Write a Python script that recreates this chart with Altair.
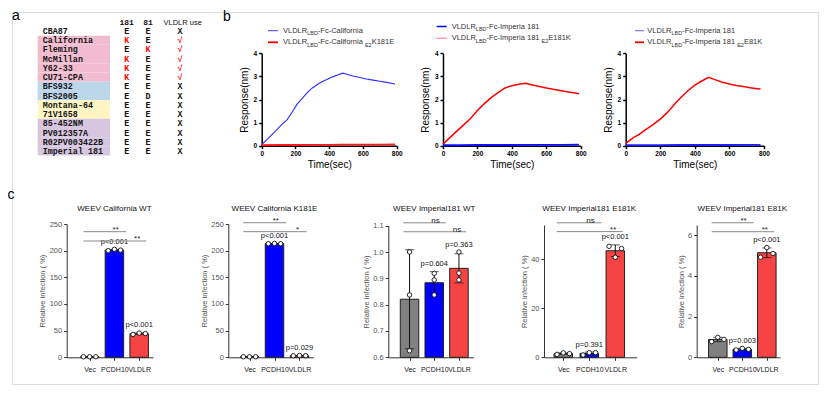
import altair as alt
import pandas as pd
import numpy as np

# ======================= DATA =======================
# ---- panel a : strain table ----
strains = ["CBA87", "California", "Fleming", "McMillan", "Y62-33", "CU71-CPA",
           "BFS932", "BFS2005", "Montana-64", "71V1658", "85-452NM", "PV012357A",
           "R02PV003422B", "Imperial 181"]
residue_181 = ["E", "K", "E", "K", "K", "K", "E", "E", "E", "E", "E", "E", "E", "E"]
residue_81 = ["E", "E", "K", "E", "E", "E", "E", "D", "E", "E", "E", "E", "E", "E"]
vldlr_use = ["X", "√", "√", "√", "√", "√", "X", "X", "X", "X", "X", "X", "X", "X"]
strain_group = ["none", "pink", "pink", "pink", "pink", "pink", "blue", "blue",
                "yellow", "yellow", "purple", "purple", "purple", "purple"]
table_header = ["181", "81", "VLDLR use"]
panel_letters = ["a", "b", "c"]

# ---- panel b : binding curves ----
b1_time = [0, 40, 80, 120, 150, 180, 210, 240, 270, 300, 330, 360, 390, 420, 450,
           480, 500, 540, 580, 620, 660, 700, 740, 790]
b1_california = [0.05, 0.33, 0.62, 0.92, 1.12, 1.45, 1.8, 2.05, 2.3, 2.5, 2.65, 2.78,
                 2.88, 2.98, 3.06, 3.14, 3.1, 3.02, 2.95, 2.89, 2.84, 2.79, 2.74, 2.67]
b1_flat_time = [0, 100, 200, 300, 400, 480, 600, 700, 790]
b1_k181e = [0.02, 0.03, 0.03, 0.04, 0.04, 0.05, 0.05, 0.05, 0.06]

b2_time = [0, 40, 80, 120, 160, 200, 240, 280, 320, 360, 400, 440, 480, 520, 560,
           600, 640, 680, 720, 760, 790]
b2_e181k = [0.07, 0.35, 0.63, 0.9, 1.18, 1.52, 1.82, 2.08, 2.3, 2.5, 2.6, 2.66, 2.7,
            2.63, 2.56, 2.5, 2.44, 2.39, 2.34, 2.29, 2.25]
b2_flat_time = [0, 100, 200, 300, 400, 480, 600, 700, 790]
b2_imperial = [0.02, 0.02, 0.03, 0.03, 0.03, 0.04, 0.04, 0.04, 0.05]

b3_time = [0, 40, 80, 120, 160, 200, 240, 280, 320, 360, 400, 440, 480, 520, 560,
           600, 640, 680, 720, 760, 780]
b3_e81k = [0.1, 0.33, 0.5, 0.72, 0.92, 1.15, 1.43, 1.77, 2.1, 2.38, 2.62, 2.8, 2.96,
           2.85, 2.75, 2.67, 2.61, 2.56, 2.51, 2.47, 2.45]
b3_flat_time = [0, 100, 200, 300, 400, 480, 600, 700, 780]
b3_imperial = [0.02, 0.02, 0.02, 0.03, 0.03, 0.03, 0.03, 0.04, 0.04]

# legend text pieces: (text, "n" normal / "s" subscript)
b_legend = [
    [[("VLDLR", "n"), ("LBD", "s"), ("-Fc-California", "n")],
     [("VLDLR", "n"), ("LBD", "s"), ("-Fc-California ", "n"), ("E2", "s"), ("K181E", "n")]],
    [[("VLDLR", "n"), ("LBD", "s"), ("-Fc-Imperia 181", "n")],
     [("VLDLR", "n"), ("LBD", "s"), ("-Fc-Imperia 181 ", "n"), ("E2", "s"), ("E181K", "n")]],
    [[("VLDLR", "n"), ("LBD", "s"), ("-Fc-Imperia 181", "n")],
     [("VLDLR", "n"), ("LBD", "s"), ("-Fc-Imperia 181 ", "n"), ("E2", "s"), ("E81K", "n")]],
]
b_x_title = "Time(sec)"
b_y_title = "Response(nm)"
b_x_ticks = [0, 200, 400, 600, 800]
b_y_ticks = [0, 1, 2, 3, 4]

# ---- panel c : infection bar charts ----
c_categories = ["Vec", "PCDH10", "VLDLR"]
c_titles = ["WEEV California WT", "WEEV California K181E", "WEEV Imperial181 WT",
            "WEEV Imperial181 E181K", "WEEV Imperial181 E81K"]
c1_values = [[1.0, 1.0, 1.0], [200.0, 202.5, 201.0], [43.0, 45.5, 44.5]]
c2_values = [[1.0, 1.0, 1.0], [213.0, 213.5, 213.0], [2.8, 3.4, 3.0]]
c3_values = [[1.0, 0.837, 0.625], [0.919, 0.894, 0.837], [1.0, 0.92, 0.894]]
c4_values = [[1.2, 1.8, 1.5], [0.95, 1.9, 1.9], [45.3, 40.8, 44.4]]
c5_values = [[0.77, 0.98, 0.88], [0.36, 0.44, 0.39], [4.92, 5.39, 5.1]]
c_pvalues = [["", "p<0.001", "p<0.001"], ["", "p<0.001", "p=0.029"],
             ["", "p=0.604", "p=0.363"], ["", "p=0.391", "p<0.001"],
             ["", "p=0.003", "p<0.001"]]
c_stars = [["**", "**"], ["**", "*"], ["ns", "ns"], ["ns", "**"], ["**", "**"]]
c_bracket_heights = [[235.6, 218.1], [252.4, 235.6], [1.111, 1.077], [54.9, 51.3], [6.61, 6.17]]
c_domains = [[0, 250], [0, 250], [0.6, 1.1], [0, 54], [0, 6.5]]
c_ticks = [[0, 50, 100, 150, 200, 250], [0, 50, 100, 150, 200, 250],
           [0.6, 0.7, 0.8, 0.9, 1.0, 1.1], [0, 20, 40], [0, 2, 4, 6]]
c_y_title = "Relative infection ( %)"

# ======================= LAYOUT / STYLE =======================
PAD = 4
M = 8 + PAD  # page margin + padding: image pixel -> view pixel
W, H = 830 - 2 * M, 396 - 2 * M


def X(v):
    return v - M


def Y(v):
    return v - M


SANS = "Liberation Sans"
MONO = "Liberation Mono"

AFM = {'V': 667, 'L': 556, 'D': 722, 'R': 722, 'B': 667, 'F': 611, 'c': 500, '-': 333,
       'C': 722, 'a': 556, 'l': 222, 'i': 222, 'f': 278, 'o': 556, 'r': 333, 'n': 556,
       ' ': 278, 'I': 278, 'm': 833, 'p': 556, 'e': 556, '1': 556, '8': 556, 'E': 667,
       'K': 667, '2': 556}


def text_w(s, fs):
    return sum(AFM.get(ch, 556) for ch in s) * fs / 1000.0


layers = []

# ---------------- panel letters ----------------
letters_df = pd.DataFrame({"t": panel_letters, "x": [X(16), X(227), X(11)],
                           "y": [Y(16), Y(16.5), Y(195)]})
layers.append(alt.Chart(letters_df).mark_text(font=SANS, fontSize=14, align="center",
                                              baseline="middle", color="black").encode(
    x=alt.X("x:Q", scale=None), y=alt.Y("y:Q", scale=None), text="t:N"))

# ---------------- panel a ----------------
GROUP_FILL = {"pink": "#F2BCD0", "blue": "#BDD7EA", "yellow": "#FFF5C3", "purple": "#D6C6E0"}
tab = pd.DataFrame({"row": list(range(len(strains))), "strain": strains,
                    "r181": residue_181, "r81": residue_81, "use": vldlr_use,
                    "grp": strain_group})
tab["fill"] = tab["grp"].map(GROUP_FILL)


def red_if(v):
    return "#FF0000" if v in ("K", "√") else "#111111"


tab["c181"] = tab["r181"].map(red_if)
tab["c81"] = tab["r81"].map(red_if)
tab["cuse"] = tab["use"].map(red_if)

row_scale = alt.Scale(type="band", domain=list(range(len(strains))),
                      range=[Y(26.4), Y(155.6)], paddingInner=0, paddingOuter=0)
yrow = alt.Y("row:O", scale=row_scale, axis=None)

t_bg = alt.Chart(tab[tab.grp != "none"]).mark_rect().encode(
    x=alt.value(X(37.7)), x2=alt.value(X(110)), y=yrow,
    color=alt.Color("fill:N", scale=None))
t_names = alt.Chart(tab).mark_text(font=MONO, fontWeight="bold", fontSize=8.4,
                                   align="left", baseline="middle", color="#151515").encode(
    x=alt.value(X(42.7)), y=yrow, text="strain:N")
t_cols = []
for col, ccol, xc in [("r181", "c181", 126.7), ("r81", "c81", 148), ("use", "cuse", 180)]:
    t_cols.append(alt.Chart(tab).mark_text(font=MONO, fontWeight="bold", fontSize=8.4,
                                           align="center", baseline="middle").encode(
        x=alt.value(X(xc)), y=yrow, text=f"{col}:N",
        color=alt.Color(f"{ccol}:N", scale=None)))
hdr_df = pd.DataFrame({"t": table_header, "x": [X(126.7), X(148), X(182.7)]})
t_hdr1 = alt.Chart(hdr_df.iloc[:2]).mark_text(font=MONO, fontWeight="bold", fontSize=8,
                                              baseline="middle", color="#111").encode(
    x=alt.X("x:Q", scale=None), y=alt.value(Y(22.7)), text="t:N")
t_hdr2 = alt.Chart(hdr_df.iloc[2:]).mark_text(font=SANS, fontSize=7.5,
                                              baseline="middle", color="#111").encode(
    x=alt.X("x:Q", scale=None), y=alt.value(Y(22.7)), text="t:N")
layers.append(alt.layer(t_bg, t_names, *t_cols, t_hdr1, t_hdr2))

# ---------------- panel b ----------------
B_GEOM = [  # x of t=0, x of t=800 (image px)
    (261.7, 396.7), (443.0, 580.7), (625.7, 764.0)]
B_Y0, B_Y4 = 145.7, 53.3
b_series = [
    [(b1_time, b1_california, "#2B2BFF", 1.1), (b1_flat_time, b1_k181e, "#FF1A1A", 1.8)],
    [(b2_time, b2_e181k, "#FF0000", 1.5), (b2_flat_time, b2_imperial, "#1010FF", 1.8)],
    [(b3_time, b3_e81k, "#FF0000", 1.5), (b3_flat_time, b3_imperial, "#2020FF", 1.8)],
]
for k in range(3):
    x0, x1 = B_GEOM[k]
    xs = alt.Scale(domain=[0, 800], range=[X(x0), X(x1)], nice=False, zero=False)
    ys = alt.Scale(domain=[0, 4], range=[Y(B_Y0), Y(B_Y4)], nice=False, zero=False)
    xa = alt.Axis(orient="bottom", offset=Y(B_Y0) - H, values=b_x_ticks, title=b_x_title,
                  grid=False, domainColor="black", domainWidth=1.5, tickColor="black",
                  tickWidth=1.5, tickSize=3, labelFont=SANS, labelFontSize=6.5,
                  labelFontWeight="bold", labelColor="black", labelPadding=2,
                  labelFlush=False, labelOverlap=False, titleFont=SANS, titleFontSize=10,
                  titleFontWeight="normal", titleColor="black", titlePadding=2)
    ya = alt.Axis(orient="left", offset=-X(x0), values=b_y_ticks, title=b_y_title,
                  grid=False, domainColor="black", domainWidth=1.5, tickColor="black",
                  tickWidth=1.5, tickSize=3, labelFont=SANS, labelFontSize=6.5,
                  labelFontWeight="bold", labelColor="black", labelPadding=2,
                  labelOverlap=False, titleFont=SANS, titleFontSize=10,
                  titleFontWeight="normal", titleColor="black", titlePadding=4)
    sub = []
    for i, (tt, rr, colr, sw) in enumerate(b_series[k]):
        df = pd.DataFrame({"t": tt, "r": rr})
        sub.append(alt.Chart(df).mark_line(color=colr, strokeWidth=sw).encode(
            x=alt.X("t:Q", scale=xs, axis=xa),
            y=alt.Y("r:Q", scale=ys, axis=ya)))
    layers.append(alt.layer(*sub))

# b legends (manual, to allow subscripts)
LEG_GEOM = [  # symbol x0, x1, text x, row y's
    (268, 278, 283, (30.7, 42.3)),
    (436.7, 446.7, 451.7, (26.5, 38.3)),
    (635, 644, 647.3, (30.7, 42.3)),
]
LEG_SYM = [[("#4040FF", 1.0), ("#FF0000", 1.8)],
           [("#0000FF", 1.5), ("#FF8A8A", 1.2)],
           [("#6060FF", 1.0), ("#FF0000", 1.8)]]
FS_N, FS_S = 7.5, 5.5
seg_rows, sym_rows = [], []
for k in range(3):
    sx0, sx1, tx, rys = LEG_GEOM[k]
    for r in range(2):
        cx = tx
        for txt, kind in b_legend[k][r]:
            fs = FS_N if kind == "n" else FS_S
            yy = rys[r] + (0 if kind == "n" else 2.3)
            seg_rows.append({"x": X(cx), "y": Y(yy), "t": txt, "fs": fs})
            cx += text_w(txt, fs)
        col, sw = LEG_SYM[k][r]
        sym_rows.append({"x": X(sx0), "x2": X(sx1), "y": Y(rys[r]), "c": col, "sw": sw})
seg_df = pd.DataFrame(seg_rows)
sym_df = pd.DataFrame(sym_rows)
layers.append(alt.Chart(seg_df).mark_text(font=SANS, align="left", baseline="middle",
                                          color="#333333").encode(
    x=alt.X("x:Q", scale=None), y=alt.Y("y:Q", scale=None), text="t:N",
    size=alt.Size("fs:Q", scale=None)))
layers.append(alt.Chart(sym_df).mark_rule().encode(
    x=alt.X("x:Q", scale=None), x2="x2:Q", y=alt.Y("y:Q", scale=None),
    color=alt.Color("c:N", scale=None), strokeWidth=alt.StrokeWidth("sw:Q", scale=None)))

# ---------------- panel c ----------------
C_GEOM = [  # axis left, axis right, bar0 center, bar2 center, y of domain max
    (66.7, 153.0, 87.0, 143.0, 224.0),
    (228.3, 313.3, 246.7, 303.3, 224.0),
    (388.3, 473.3, 406.7, 462.7, 225.7),
    (544.0, 636.7, 560.0, 618.3, 225.0),
    (696.7, 780.0, 715.0, 770.7, 225.0),
]
C_BASE = 357.3
C_COLORS = ["#808080", "#0000FF", "#F64444"]
C_JITTER = [[-7, 0, 7], [-7, 0, 7], [0, 0, 0], [-7, 0, 7], [-7, 0, 7]]
C_FMT = ["d", "d", ".1f", "d", "d"]
c_all_values = [c1_values, c2_values, c3_values, c4_values, c5_values]
label_expr = "[" + ",".join(f"'{c}'" for c in c_categories) + "][datum.value]"

for k in range(5):
    al, ar, b0, b2, ytop = C_GEOM[k]
    step = (b2 - b0) / 2.0
    lo_d, hi_d = c_domains[k]
    xs = alt.Scale(domain=[(al - b0) / step, (ar - b0) / step], range=[X(al), X(ar)],
                   nice=False, zero=False)
    ys = alt.Scale(domain=[lo_d, hi_d], range=[Y(C_BASE), Y(ytop)], nice=False, zero=False)
    vals = c_all_values[k]

    pts = pd.DataFrame([{"xj": i + C_JITTER[k][j] / step, "v": v}
                        for i, grp in enumerate(vals) for j, v in enumerate(grp)])
    summ = []
    for i, grp in enumerate(vals):
        m = float(np.mean(grp))
        sd = float(np.std(grp, ddof=1))
        summ.append({"i": i, "mean": m, "lo": m - sd, "hi": m + sd,
                     "top": max(m + sd, max(grp)), "col": C_COLORS[i],
                     "p": c_pvalues[k][i]})
    summ = pd.DataFrame(summ)
    caps = pd.concat([summ[["i", "lo"]].rename(columns={"lo": "cv"}),
                      summ[["i", "hi"]].rename(columns={"hi": "cv"})])
    br = pd.DataFrame({"x0": [-0.25, -0.25], "x1": [1.47, 2.29],
                       "h": c_bracket_heights[k], "lab": c_stars[k], "xl": [1.05, 1.92]})
    br["dy"] = br["lab"].map(lambda s: -1.0 if s == "ns" else 2.3)
    ttl = pd.DataFrame({"i": [1], "t": [c_titles[k]]})

    xa = alt.Axis(orient="bottom", offset=Y(C_BASE) - H, values=[0, 1, 2],
                  labelExpr=label_expr, title=None, grid=False, domainColor="#333333",
                  domainWidth=1, tickColor="#333333", tickSize=3, labelFont=SANS,
                  labelFontSize=7, labelColor="#222222", labelPadding=5.5,
                  labelFlush=False, labelOverlap=False, labelBound=False)
    ya = alt.Axis(orient="left", offset=-X(al), values=c_ticks[k], format=C_FMT[k],
                  title=c_y_title, grid=False, domainColor="#333333", domainWidth=1,
                  tickColor="#333333", tickSize=3, labelFont=SANS, labelFontSize=7.5,
                  labelColor="#555555", labelPadding=2, labelOverlap=False,
                  titleFont=SANS, titleFontSize=7.5, titleFontWeight="normal",
                  titleColor="#555555", titlePadding=2.5)

    bars = alt.Chart(summ).mark_bar(width=18.5, stroke="#222222", strokeWidth=1).encode(
        x=alt.X("i:Q", scale=xs, axis=xa),
        y=alt.Y("mean:Q", scale=ys, axis=ya),
        y2=alt.datum(lo_d),
        color=alt.Color("col:N", scale=None))
    err = alt.Chart(summ).mark_rule(color="#111111", strokeWidth=1).encode(
        x=alt.X("i:Q", scale=xs, axis=xa), y=alt.Y("lo:Q", scale=ys, axis=ya), y2="hi:Q")
    cap = alt.Chart(caps).mark_tick(orient="horizontal", size=9, thickness=1,
                                    color="#111111").encode(
        x=alt.X("i:Q", scale=xs, axis=xa), y=alt.Y("cv:Q", scale=ys, axis=ya))
    dots = alt.Chart(pts).mark_point(shape="circle", filled=True, fill="white",
                                     stroke="#111111", strokeWidth=0.9, size=20,
                                     opacity=1).encode(
        x=alt.X("xj:Q", scale=xs, axis=xa), y=alt.Y("v:Q", scale=ys, axis=ya))
    ptxt = alt.Chart(summ).mark_text(font=SANS, fontSize=7.5, baseline="bottom", dy=-3.5,
                                     color="#111111").encode(
        x=alt.X("i:Q", scale=xs, axis=xa), y=alt.Y("top:Q", scale=ys, axis=ya),
        text="p:N")
    brl = alt.Chart(br).mark_rule(color="#8A8A8A", strokeWidth=1).encode(
        x=alt.X("x0:Q", scale=xs, axis=xa), x2="x1:Q",
        y=alt.Y("h:Q", scale=ys, axis=ya))
    brt = alt.Chart(br).mark_text(font=SANS, fontSize=8, baseline="alphabetic",
                                  color="#222222").encode(
        x=alt.X("xl:Q", scale=xs, axis=xa), y=alt.Y("h:Q", scale=ys, axis=ya),
        text="lab:N", yOffset=alt.YOffset("dy:Q", scale=None))
    title = alt.Chart(ttl).mark_text(font=SANS, fontSize=8, baseline="middle",
                                     color="#111111").encode(
        x=alt.X("i:Q", scale=xs, axis=xa), y=alt.value(Y(209)), text="t:N")
    layers.append(alt.layer(bars, err, cap, dots, ptxt, brl, brt, title))

chart = alt.layer(*layers).resolve_scale(x="independent", y="independent").properties(
    width=W, height=H, autosize=alt.AutoSizeParams(type="none"), padding=PAD
).configure_view(strokeWidth=0, stroke="transparent").configure(font=SANS)

chart.save("out.html", embed_options={"renderer": "svg", "actions": False})
